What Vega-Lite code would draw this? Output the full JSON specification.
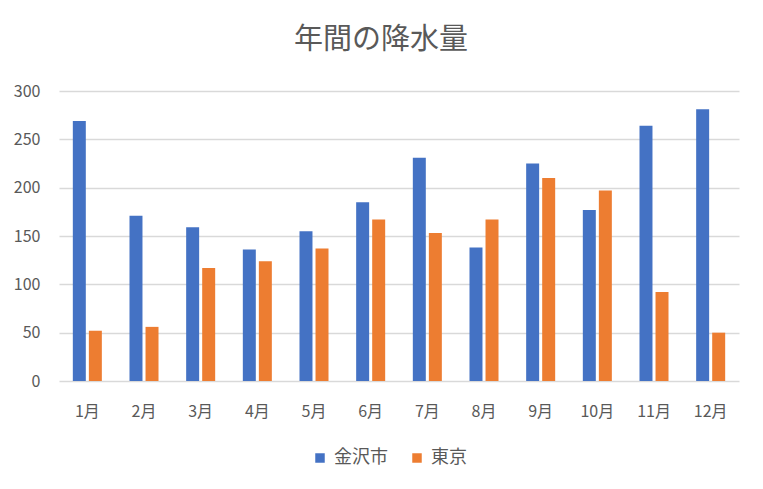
{
  "$schema": "https://vega.github.io/schema/vega-lite/v6.json",
  "width": 680,
  "height": 290,
  "autosize": "none",
  "padding": {"left": 59, "top": 91, "right": 24, "bottom": 109},
  "background": "white",
  "title": {"text": "年間の降水量", "fontSize": 29, "font": "Noto Sans CJK JP", "fontWeight": "normal", "color": "#595959", "offset": 28, "dx": -18},
  "data": {"values": [
    {"month": "1月", "city": "金沢市", "value": 269}, {"month": "1月", "city": "東京", "value": 52},
    {"month": "2月", "city": "金沢市", "value": 171}, {"month": "2月", "city": "東京", "value": 56},
    {"month": "3月", "city": "金沢市", "value": 159}, {"month": "3月", "city": "東京", "value": 117},
    {"month": "4月", "city": "金沢市", "value": 136}, {"month": "4月", "city": "東京", "value": 124},
    {"month": "5月", "city": "金沢市", "value": 155}, {"month": "5月", "city": "東京", "value": 137},
    {"month": "6月", "city": "金沢市", "value": 185}, {"month": "6月", "city": "東京", "value": 167},
    {"month": "7月", "city": "金沢市", "value": 231}, {"month": "7月", "city": "東京", "value": 153},
    {"month": "8月", "city": "金沢市", "value": 138}, {"month": "8月", "city": "東京", "value": 167},
    {"month": "9月", "city": "金沢市", "value": 225}, {"month": "9月", "city": "東京", "value": 210},
    {"month": "10月", "city": "金沢市", "value": 177}, {"month": "10月", "city": "東京", "value": 197},
    {"month": "11月", "city": "金沢市", "value": 264}, {"month": "11月", "city": "東京", "value": 92},
    {"month": "12月", "city": "金沢市", "value": 281}, {"month": "12月", "city": "東京", "value": 50}
  ]},
  "mark": {"type": "bar"},
  "encoding": {
    "x": {"field": "month", "type": "nominal", "sort": null,
      "scale": {"paddingInner": 0.488, "paddingOuter": 0.244},
      "axis": {"title": null, "labelAngle": 0, "domain": false, "ticks": false, "labelPadding": 22,
        "labelFont": "Noto Sans CJK JP", "labelFontSize": 16, "labelColor": "#595959"}},
    "xOffset": {"field": "city", "type": "nominal", "scale": {"domain": ["金沢市", "東京"], "paddingInner": 0.19}},
    "y": {"field": "value", "type": "quantitative",
      "scale": {"domain": [0, 300], "nice": false},
      "axis": {"title": null, "values": [0, 50, 100, 150, 200, 250, 300], "domain": false, "ticks": false,
        "labelPadding": 19, "gridColor": "#d9d9d9", "gridWidth": 1.3,
        "labelFont": "Noto Sans CJK JP", "labelFontSize": 16, "labelColor": "#595959"}},
    "color": {"field": "city", "type": "nominal",
      "scale": {"domain": ["金沢市", "東京"], "range": ["#4472C4", "#ED7D31"]},
      "legend": {"orient": "none", "legendX": 252, "legendY": 358, "padding": 0, "direction": "horizontal", "title": null, "symbolType": "square",
        "symbolSize": 90, "symbolStrokeWidth": 0, "labelFont": "Noto Sans CJK JP", "labelFontSize": 18,
        "labelColor": "#595959", "columnPadding": 20, "labelOffset": 5}}
  },
  "config": {"view": {"stroke": null}}
}
